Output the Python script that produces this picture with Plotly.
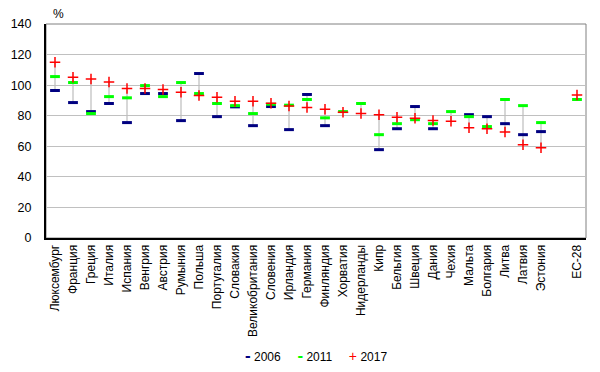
import plotly.graph_objects as go

countries = ["Люксембург", "Франция", "Греция", "Италия", "Испания", "Венгрия", "Австрия",
             "Румыния", "Польша", "Португалия", "Словакия", "Великобритания", "Словения",
             "Ирландия", "Германия", "Финляндия", "Хорватия", "Нидерланды", "Кипр", "Бельгия",
             "Швеция", "Дания", "Чехия", "Мальта", "Болгария", "Литва", "Латвия", "Эстония",
             "", "ЕС-28"]

v2006 = [96.5, 88.6, 82.7, 88.0, 75.5, 94.5, 94.5, 76.8, 107.6, 79.4, 85.8, 73.5, 86.0,
         70.9, 93.9, 73.5, None, None, 57.8, 71.5, 86.0, 71.5, None, 80.7, 79.4, 74.8,
         67.6, 69.6, None, None]
v2011 = [105.6, 101.7, 81.4, 92.5, 91.7, 99.7, 92.5, 101.7, 94.5, 88.0, 86.6, 81.4, 87.5,
         86.9, 90.6, 78.6, 82.7, 88.0, 67.6, 74.8, 77.4, 74.8, 82.7, 79.4, 72.9, 90.6,
         86.6, 75.5, None, 90.6]
v2017 = [115.0, 105.2, 104.0, 102.0, 97.8, 97.8, 97.1, 95.4, 93.2, 92.0, 89.5, 89.5, 88.2,
         86.4, 85.3, 84.2, 82.3, 81.4, 80.7, 79.0, 78.4, 76.8, 76.4, 72.2, 71.5, 69.4,
         61.0, 59.1, None, 93.6]

series_names = ["2006", "2011", "2017"]
series_colors = ["#000080", "#00ff00", "#ff0000"]

yticks = [0, 20, 40, 60, 80, 100, 120, 140]

xpos = list(range(len(countries)))
tickvals = [i for i, c in enumerate(countries) if c]
ticktext = [c for c in countries if c]

# range lines from min to max per category
lx, ly = [], []
for i in xpos:
    vals = [v for v in (v2006[i], v2011[i], v2017[i]) if v is not None]
    if len(vals) >= 2:
        lx += [i, i, None]
        ly += [min(vals), max(vals), None]

fig = go.Figure()
fig.add_trace(go.Scatter(x=lx, y=ly, mode="lines", line=dict(color="#bcbcbc", width=1.2),
                         showlegend=False, hoverinfo="skip"))
fig.add_trace(go.Scatter(x=xpos, y=v2006, mode="markers", name=series_names[0],
                         marker=dict(symbol="line-ew", size=7,
                                     line=dict(color=series_colors[0], width=3))))
fig.add_trace(go.Scatter(x=xpos, y=v2011, mode="markers", name=series_names[1],
                         marker=dict(symbol="line-ew", size=7,
                                     line=dict(color=series_colors[1], width=3))))
fig.add_trace(go.Scatter(x=xpos, y=v2017, mode="markers", name=series_names[2],
                         marker=dict(symbol="cross-thin", size=7.5,
                                     line=dict(color=series_colors[2], width=1.5))))

sym = ["<span style='font-size:17px'><b>-</b></span>",
       "<span style='font-size:17px'><b>-</b></span>",
       "<span style='font-size:14px'>+</span>"]
legend_text = "\u00a0\u00a0\u00a0\u00a0\u00a0".join(
    f"<span style='color:{c}'>{s}</span>\u00a0{n}"
    for s, c, n in zip(sym, series_colors, series_names))

fig.update_layout(
    width=600, height=372,
    margin=dict(l=46, r=14, t=24, b=134, autoexpand=False),
    paper_bgcolor="white", plot_bgcolor="white",
    font=dict(family="Arial, Liberation Sans, sans-serif", size=12, color="#000000"),
    showlegend=False,
    xaxis=dict(range=[-0.5, 29.5], tickmode="array", tickvals=tickvals, ticktext=ticktext,
               tickangle=-90, showgrid=False, zeroline=False, showline=True,
               linecolor="#000000", linewidth=2, ticks="", tickfont=dict(size=12),
               automargin=False),
    yaxis=dict(range=[0, 140], tickmode="array", tickvals=yticks, showgrid=True,
               gridcolor="#c0c0c0", gridwidth=1, zeroline=False, showline=True,
               linecolor="#000000", linewidth=2, ticks="", tickfont=dict(size=12.5),
               ticklabelstandoff=10, automargin=False),
    shapes=[dict(type="rect", xref="paper", yref="paper", x0=0, x1=1, y0=0, y1=1,
                 line=dict(color="#808080", width=1), layer="below")],
    annotations=[
        dict(text="%", xref="paper", yref="paper", x=0.024, y=1.0, xanchor="center",
             yanchor="bottom", showarrow=False, font=dict(size=12), yshift=1),
        dict(text=legend_text, xref="paper", yref="paper", x=0.5, y=-0.547,
             xanchor="center", yanchor="middle", showarrow=False, font=dict(size=12)),
    ],
)

fig.write_html("out.html", config={"displayModeBar": False},
               post_script="document.body.style.margin='0px';")
